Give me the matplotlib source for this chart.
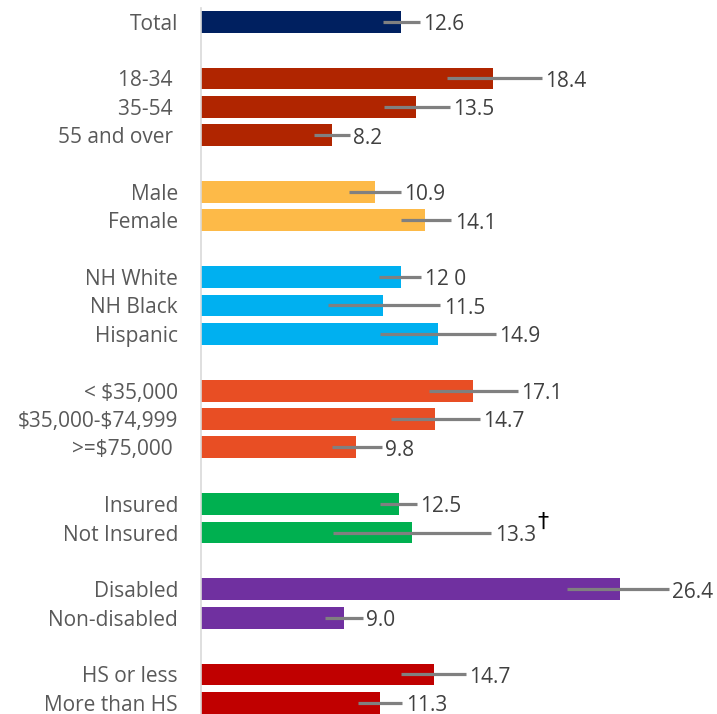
import matplotlib
matplotlib.use("Agg")
import matplotlib.pyplot as plt
from matplotlib.transforms import offset_copy

plt.rcParams['font.family'] = ['Open Sans', 'DejaVu Sans']
plt.rcParams['text.parse_math'] = False

categories = ["Total",
              "18-34 ", "35-54 ", "55 and over ",
              "Male", "Female",
              "NH White", "NH Black", "Hispanic",
              "< $35,000", "$35,000-$74,999", ">=$75,000 ",
              "Insured", "Not Insured",
              "Disabled", "Non-disabled",
              "HS or less", "More than HS"]
values = [12.6, 18.45, 13.55, 8.25, 10.95, 14.15, 12.6, 11.5, 14.95,
          17.15, 14.75, 9.8, 12.5, 13.3, 26.4, 9.05, 14.7, 11.3]
value_labels = ["12.6", "18.4", "13.5", "8.2", "10.9", "14.1", "12 0", "11.5", "14.9",
                "17.1", "14.7", "9.8", "12.5", "13.3", "26.4", "9.0", "14.7", "11.3"]
ci_low = [11.5, 15.5, 11.55, 7.1, 9.35, 12.6, 11.2, 8.0, 11.3,
          14.4, 12.0, 8.25, 11.3, 8.3, 23.1, 7.8, 12.6, 9.9]
ci_high = [13.8, 21.5, 15.7, 9.4, 12.6, 15.8, 13.9, 15.1, 18.6,
           20.0, 17.6, 11.4, 13.6, 18.3, 29.5, 10.2, 16.7, 12.7]
group_sizes = [1, 3, 2, 3, 3, 2, 2, 2]
group_colors = ["#002060", "#B02500", "#FDBA48", "#00B0F0",
                "#E84E24", "#00B050", "#7030A0", "#C00000"]
flag_label = "Not Insured"
flag_mark = "\u2020"

# positions with a blank row between groups
positions, colors = [], []
row = 0
for size, col in zip(group_sizes, group_colors):
    for _ in range(size):
        positions.append(row)
        colors.append(col)
        row += 1
    row += 1
n_rows = positions[-1] + 1

fig = plt.figure(figsize=(7.17, 7.14), dpi=100)
ax = fig.add_axes([201 / 717, 1 - 717.0 / 714, 1 - 201 / 717, 709.5 / 714])

ax.barh(positions, values, height=0.77, color=colors, zorder=2)
xerr = [[v - lo for v, lo in zip(values, ci_low)],
        [hi - v for v, hi in zip(values, ci_high)]]
ax.errorbar(values, positions, xerr=xerr, fmt='none', ecolor='#808080',
            elinewidth=2.3, capsize=0, zorder=3)

for y, hi, lab, cat in zip(positions, ci_high, value_labels, categories):
    tr = offset_copy(ax.transData, fig=fig, x=2.5, y=-6.0, units='points')
    t = ax.text(hi, y, lab, transform=tr, ha='left', va='baseline',
                fontsize=15, color='#404040', zorder=4)
    if cat == flag_label:
        ax.annotate(flag_mark, xy=(1, 1), xycoords=t, xytext=(1.5, 2.0),
                    textcoords='offset points', ha='left', va='center',
                    fontsize=16, color='black', family=['DejaVu Sans'])

ax.set_xlim(0, 32.55)
ax.set_ylim(n_rows - 0.5, -0.5)
ax.set_yticks(positions)
ax.set_yticklabels(categories, fontsize=15, color='#595959')
ax.tick_params(axis='y', length=0, pad=16.5)
ax.tick_params(axis='x', bottom=False, labelbottom=False)
for side in ['top', 'right', 'bottom']:
    ax.spines[side].set_visible(False)
ax.spines['left'].set_color('#D9D9D9')
ax.spines['left'].set_linewidth(1.2)

fig.savefig("out.png", dpi=100)
